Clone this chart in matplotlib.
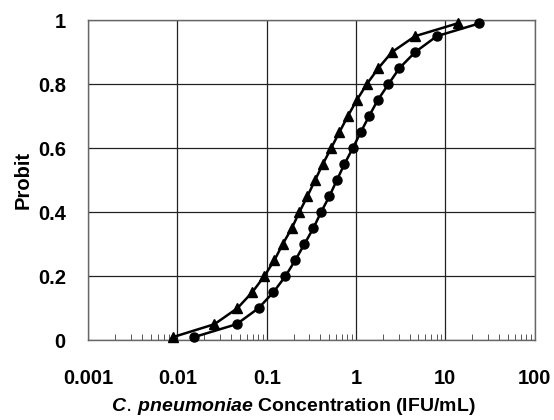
import matplotlib
matplotlib.use("Agg")
import matplotlib.pyplot as plt
from matplotlib.ticker import LogLocator, NullFormatter, FixedLocator

plt.rcParams['font.family'] = ['Liberation Sans', 'DejaVu Sans']
plt.rcParams['mathtext.fontset'] = 'custom'
plt.rcParams['mathtext.it'] = 'Liberation Sans:italic:bold'

# probit levels (shared by both curves)
probit = [0.01, 0.05, 0.10, 0.15, 0.20, 0.25, 0.30, 0.35, 0.40, 0.45, 0.50,
          0.55, 0.60, 0.65, 0.70, 0.75, 0.80, 0.85, 0.90, 0.95, 0.99]

# concentrations (IFU/mL)
conc_tri = [0.0090, 0.026, 0.047, 0.069, 0.094, 0.122, 0.151, 0.191, 0.232, 0.286, 0.348,
            0.425, 0.526, 0.652, 0.809, 1.02, 1.32, 1.78, 2.52, 4.59, 13.7]
conc_circ = [0.0155, 0.046, 0.081, 0.119, 0.162, 0.209, 0.264, 0.333, 0.406, 0.504, 0.610,
             0.741, 0.920, 1.13, 1.40, 1.75, 2.31, 3.06, 4.59, 8.03, 24.1]

xticks = [0.001, 0.01, 0.1, 1, 10, 100]
xticklabels = ["0.001", "0.01", "0.1", "1", "10", "100"]
yticks = [0, 0.2, 0.4, 0.6, 0.8, 1]
yticklabels = ["0", "0.2", "0.4", "0.6", "0.8", "1"]

fig = plt.figure(figsize=(5.54, 4.2), dpi=100)
ax = fig.add_axes([0.159, 0.190, 0.806, 0.762])

ax.plot(conc_tri, probit, color='black', lw=1.8, marker='^', ms=7, clip_on=False, zorder=3)
ax.plot(conc_circ, probit, color='black', lw=1.8, marker='o', ms=6.5, clip_on=False, zorder=3)

ax.set_xscale('log')
ax.set_xlim(0.001, 100)
ax.set_ylim(0, 1)

ax.xaxis.set_major_locator(FixedLocator(xticks))
ax.set_xticks(xticks)
ax.set_xticklabels(xticklabels)
ax.xaxis.set_minor_locator(LogLocator(base=10, subs=range(2, 10), numticks=20))
ax.xaxis.set_minor_formatter(NullFormatter())
ax.set_yticks(yticks)
ax.set_yticklabels(yticklabels)

ax.grid(True, which='major', color='#222222', lw=0.9)
ax.tick_params(axis='both', which='major', length=0, labelsize=14.5)
ax.tick_params(axis='x', pad=21)
ax.tick_params(axis='y', pad=16)
ax.tick_params(axis='x', which='minor', direction='in', length=4, width=0.7, color='#555555')
for lab in ax.get_xticklabels() + ax.get_yticklabels():
    lab.set_fontweight('bold')
for s in ax.spines.values():
    s.set_color('#666666')
    s.set_linewidth(1.0)

ax.set_ylabel("Probit", fontsize=14.5, fontweight='bold')
ax.yaxis.set_label_coords(-0.125, 0.5)
ax.set_xlabel(r"$\mathit{C.\,pneumoniae}$ Concentration (IFU/mL)", fontsize=14,
              fontweight='bold', va='center')
ax.xaxis.set_label_coords(0.46, -0.207)

fig.savefig("out.png", dpi=100, facecolor='white')
